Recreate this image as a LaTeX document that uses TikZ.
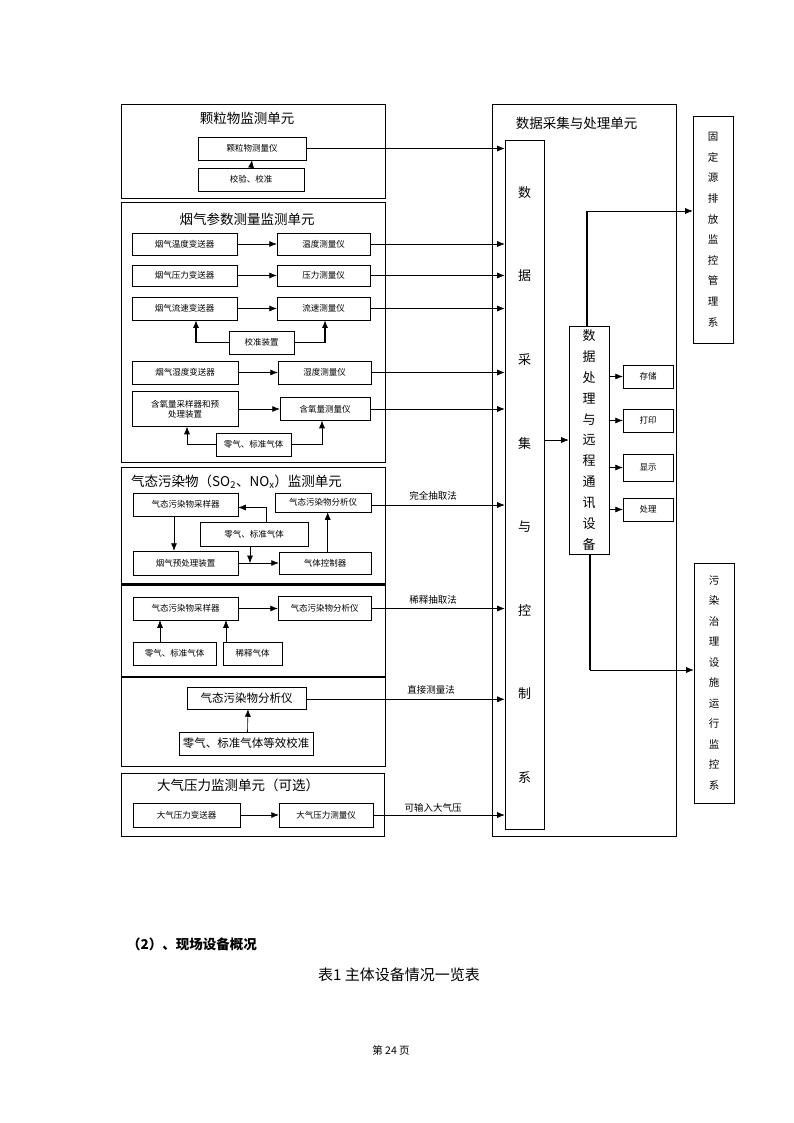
\documentclass[tikz,border=0pt]{standalone}
\usepackage{fontspec}
\setmainfont{Noto Sans CJK SC}
\usetikzlibrary{arrows.meta}
\begin{document}
\begin{tikzpicture}[x=1pt,y=-1pt,
  unit/.style={draw, line width=0.7pt, inner sep=0pt, anchor=north west},
  bx/.style={draw, line width=0.5pt, inner sep=1pt, font=\fontsize{8.5}{10}\selectfont, align=center},
  ttl/.style={font=\fontsize{13.5}{16}\selectfont, inner sep=0pt},
  arr/.style={-{Latex[length=7.5pt,width=6pt]}, line width=0.6pt},
  ln/.style={line width=0.6pt},
  thk/.style={line width=1.6pt},
  lbl/.style={font=\fontsize{9.5}{11}\selectfont, inner sep=0pt}
]
\useasboundingbox (0,0) rectangle (794,1123);

% ---------- left unit boxes ----------
\node[unit, minimum width=264pt, minimum height=94pt]  (u1) at (121,104) {};
\node[unit, minimum width=264pt, minimum height=260pt] (u2) at (121,202) {};
\node[unit, minimum width=264pt, minimum height=116pt] (u3) at (121,467) {};
\node[unit, minimum width=264pt, minimum height=92pt]  (u4) at (121,585) {};
\node[unit, minimum width=264pt, minimum height=89pt]  (u5) at (121,677) {};
\node[unit, minimum width=263pt, minimum height=63pt]  (u6) at (121,773) {};
\draw[thk] (u4.north west) -- (u4.north east);
\draw[thk] (u5.north west) -- (u5.north east);

\node[ttl] (t1) at (247,118) {颗粒物监测单元};
\node[ttl] (t2) at (247,219) {烟气参数测量监测单元};
\node[ttl, anchor=west] (t3) at (131,482) {气态污染物（SO\textsubscript{2}、NO\textsubscript{x}）监测单元};
\node[ttl, anchor=west] (t6) at (157,785) {大气压力监测单元（可选）};

% unit 1
\node[bx, minimum width=108pt, minimum height=23pt] (b1) at (252,148.5) {颗粒物测量仪};
\node[bx, minimum width=106pt, minimum height=23pt] (b2) at (251,179.5) {校验、校准};
\draw[arr] (b2.north) -- (b1.south);

% unit 2
\node[bx, minimum width=105pt, minimum height=22pt] (c1) at (184.5,244) {烟气温度变送器};
\node[bx, minimum width=93pt,  minimum height=22pt] (c2) at (323.5,244) {温度测量仪};
\node[bx, minimum width=105pt, minimum height=21pt] (c3) at (184.5,275.5) {烟气压力变送器};
\node[bx, minimum width=93pt,  minimum height=21pt] (c4) at (323.5,275.5) {压力测量仪};
\node[bx, minimum width=105pt, minimum height=23pt] (c5) at (184.5,308.5) {烟气流速变送器};
\node[bx, minimum width=93pt,  minimum height=23pt] (c6) at (323.5,308.5) {流速测量仪};
\node[bx, minimum width=65pt,  minimum height=23pt] (c7) at (261.5,342.5) {校准装置};
\node[bx, minimum width=106pt, minimum height=23pt] (c8) at (185,372.5) {烟气湿度变送器};
\node[bx, minimum width=93pt,  minimum height=23pt] (c9) at (324.5,372.5) {湿度测量仪};
\node[bx, minimum width=106pt, minimum height=35pt] (c10) at (185,409) {含氧量采样器和预\\处理装置};
\node[bx, minimum width=90pt,  minimum height=23pt] (c11) at (325,409) {含氧量测量仪};
\node[bx, minimum width=75pt,  minimum height=23pt] (c12) at (253.5,444.5) {零气、标准气体};
\draw[arr] (c1) -- (c2);
\draw[arr] (c3) -- (c4);
\draw[arr] (c5) -- (c6);
\draw[arr] (c8) -- (c9);
\draw[arr] (c10) -- (c11);
\draw[arr, line width=1.2pt] (c7.west) -| ([xshift=11.5pt]c5.south);
\draw[arr, line width=1.2pt] (c7.east) -| ([xshift=1.5pt]c6.south);
\draw[arr] (c12.west) -| ([xshift=2pt]c10.south);
\draw[arr] (c12.east) -| ([xshift=-3pt]c11.south);

% unit 3
\node[bx, minimum width=105pt, minimum height=23pt] (d1) at (185.5,504.5) {气态污染物采样器};
\node[bx, minimum width=108pt, minimum height=24pt] (d2) at (254,534) {零气、标准气体};
\node[bx, minimum width=96pt,  minimum height=19pt] (d3) at (323,502.5) {气态污染物分析仪};
\node[bx, minimum width=105pt, minimum height=24pt] (d4) at (185.5,563) {烟气预处理装置};
\node[bx, minimum width=92pt,  minimum height=22pt] (d5) at (325,563) {气体控制器};
\coordinate (j1) at (250,563);
\draw[arr] ([xshift=-11.5pt]d1.south) -- ([xshift=-11.5pt]d4.north);
\draw[arr] ([xshift=12.7pt]d2.north) |- ([yshift=-3pt]d1.east);
\draw[arr] (d2.south -| j1) -- (j1);
\draw[arr] (d4) -- (d5);
\draw[arr] ([xshift=2.7pt]d5.north) -- ([xshift=2.7pt]d5.north |- d3.south);

% unit 4
\node[bx, minimum width=105pt, minimum height=23pt] (e1) at (185.5,608.5) {气态污染物采样器};
\node[bx, minimum width=93pt,  minimum height=24pt] (e2) at (324.5,608.5) {气态污染物分析仪};
\node[bx, minimum width=83pt,  minimum height=23pt] (e3) at (174.5,653.5) {零气、标准气体};
\node[bx, minimum width=59pt,  minimum height=23pt] (e4) at (252.5,653.5) {稀释气体};
\draw[arr] (e1) -- (e2);
\draw[arr] ([xshift=-14.5pt]e3.north) -- ([xshift=-14.5pt]e3.north |- e1.south);
\draw[arr] ([xshift=-26.5pt]e4.north) -- ([xshift=-26.5pt]e4.north |- e1.south);

% unit 5
\node[bx, minimum width=119pt, minimum height=22pt, font=\fontsize{11.5}{13}\selectfont] (f1) at (246.5,698) {气态污染物分析仪};
\node[bx, minimum width=134pt, minimum height=23pt, font=\fontsize{11.5}{13}\selectfont] (f2) at (246,743.5) {零气、标准气体等效校准};
\draw[arr] ([xshift=1.5pt]f2.north) -- ([xshift=1.5pt]f1.south);

% unit 6
\node[bx, minimum width=107pt, minimum height=24pt] (g1) at (186.5,815) {大气压力变送器};
\node[bx, minimum width=94pt,  minimum height=24pt] (g2) at (326,815) {大气压力测量仪};
\draw[arr] (g1) -- (g2);

% ---------- data acquisition and processing unit ----------
\node[unit, minimum width=184.5pt, minimum height=731.5pt] (M) at (491.5,104.5) {};
\node[ttl] (mt) at (576.5,123) {数据采集与处理单元};
\node[draw, line width=0.6pt, minimum width=39pt, minimum height=689pt, inner sep=0pt,
      align=center, font=\fontsize{13}{83.6}\selectfont] (I) at (524.5,484.8)
  {数\\据\\采\\集\\与\\控\\制\\系};

% connections from units into the acquisition system
\draw[arr] (b1.east) -- (b1.east -| I.west);
\draw[arr] (c2.east) -- (c2.east -| I.west);
\draw[arr] (c4.east) -- (c4.east -| I.west);
\draw[arr] (c6.east) -- (c6.east -| I.west);
\draw[arr] (c9.east) -- (c9.east -| I.west);
\draw[arr] (c11.east) -- (c11.east -| I.west);
\draw[arr] ([yshift=-2.5pt]d3.east) -- ([yshift=-2.5pt]d3.east -| I.west);
\draw[arr] (e2.east) -- (e2.east -| I.west);
\draw[arr] ([yshift=-1.3pt]f1.east) -- ([yshift=-1.3pt]f1.east -| I.west);
\draw[arr] (g2.east) -- (g2.east -| I.west);
\node[lbl] (l1) at (433,496) {完全抽取法};
\node[lbl] (l2) at (433,600) {稀释抽取法};
\node[lbl] (l3) at (431,690) {直接测量法};
\node[lbl] (l4) at (433,808) {可输入大气压};

% data processing and remote communication device
\node[draw, line width=0.6pt, minimum width=40pt, minimum height=228pt, inner sep=0pt,
      align=center, font=\fontsize{13}{20.9}\selectfont] (P) at (589,440)
  {数\\据\\处\\理\\与\\远\\程\\通\\讯\\设\\备};
\draw[arr] (P.west -| I.east) -- (P.west);

\node[bx, minimum width=50pt, minimum height=23pt] (s1) at (648,376.5) {存储};
\node[bx, minimum width=50pt, minimum height=23pt] (s2) at (648,420.5) {打印};
\node[bx, minimum width=50pt, minimum height=27pt] (s3) at (648,467.5) {显示};
\node[bx, minimum width=50pt, minimum height=23pt] (s4) at (648,509.5) {处理};
\foreach \s in {s1,s2,s3,s4} \draw[arr] (P.east |- \s.west) -- (\s.west);

% external systems
\node[draw, line width=0.6pt, minimum width=40pt, minimum height=227pt, inner sep=0pt,
      align=center, font=\fontsize{10.5}{20.6}\selectfont] (F1) at (713,229.5)
  {固\\定\\源\\排\\放\\监\\控\\管\\理\\系};
\node[draw, line width=0.6pt, minimum width=40pt, minimum height=240pt, inner sep=0pt,
      align=center, font=\fontsize{10.5}{20.5}\selectfont] (F2) at (714,683)
  {污\\染\\治\\理\\设\\施\\运\\行\\监\\控\\系};
\coordinate (k1) at (587,211);
\coordinate (k2) at (590,670);
\draw[thk] (P.north -| k1) -- (k1);
\draw[arr] (k1) -- (k1 -| F1.west);
\draw[thk] (P.south -| k2) -- (k2);
\draw[arr] (k2) -- (k2 -| F2.west);

% ---------- text below ----------
\node[anchor=west, font=\bfseries\fontsize{13.5}{16}\selectfont, inner sep=0pt] (h2) at (127,944) {（2）、现场设备概况};
\node[font=\fontsize{15}{18}\selectfont, inner sep=0pt] (tt) at (399,975) {表1 主体设备情况一览表};
\node[font=\fontsize{10.5}{12}\selectfont, inner sep=0pt] (pg) at (391,1050) {第 24 页};
\end{tikzpicture}
\end{document}
